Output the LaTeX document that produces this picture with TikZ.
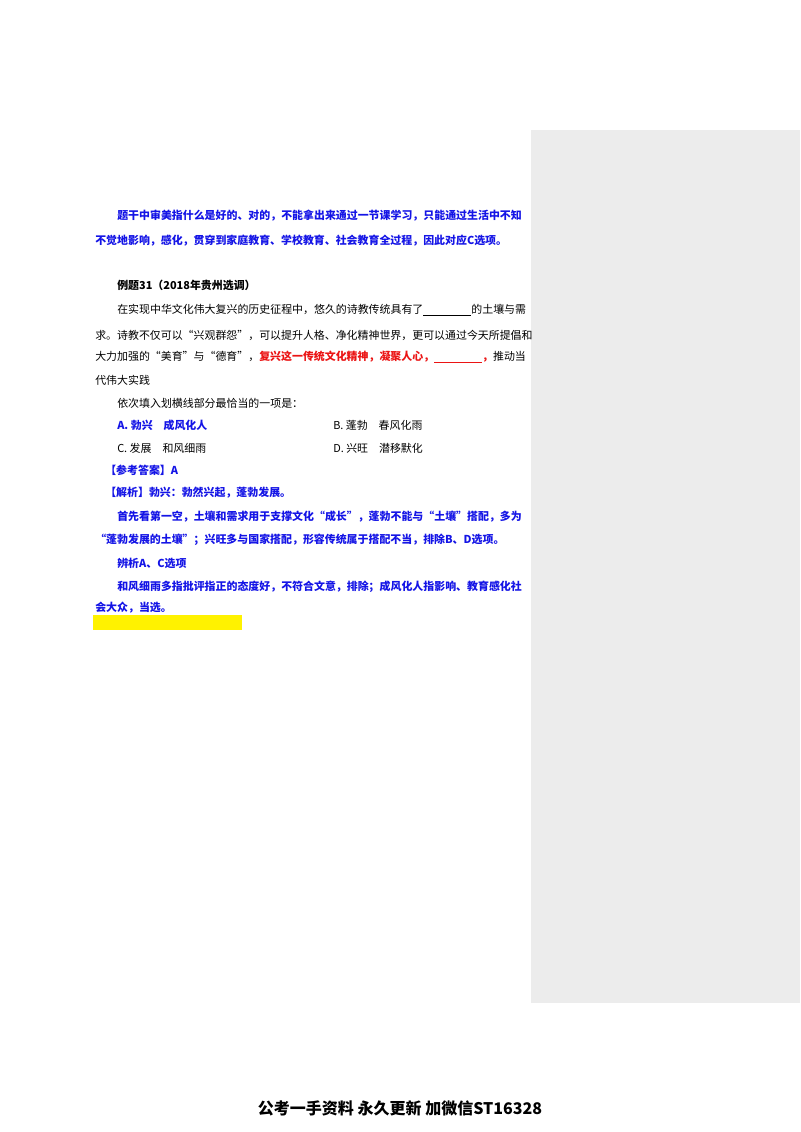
\documentclass[tikz,border=0pt]{standalone}
\usepackage{fontspec}
\setmainfont{Noto Sans CJK SC}
\newfontfamily\cjk{Noto Sans CJK SC}
\definecolor{pblue}{RGB}{20,20,230}
\definecolor{pred}{RGB}{235,20,20}
\definecolor{panel}{RGB}{236,236,236}
\begin{document}
\begin{tikzpicture}[x=0.75pt,y=-0.75pt,
  t/.style={anchor=west,inner sep=0pt,font=\fontsize{8.2}{9}\selectfont},
  b/.style={t,text=pblue,font=\fontsize{8.2}{9}\selectfont\bfseries}]
\useasboundingbox (0,0) rectangle (800,1132);
\fill[white] (0,0) rectangle (800,1132);
\fill[panel] (531,130) rectangle (800,1003);
\node[b] (l1) at (117,216) {题干中审美指什么是好的、对的，不能拿出来通过一节课学习，只能通过生活中不知};
\node[b] (l2) at (95,241) {不觉地影响，感化，贯穿到家庭教育、学校教育、社会教育全过程，因此对应C选项。};
\node[t,font=\fontsize{8.2}{9}\selectfont\bfseries] (l3) at (117,285) {例题31（2018年贵州选调）};
\node[t] (l4) at (117,310) {在实现中华文化伟大复兴的历史征程中，悠久的诗教传统具有了\underline{\hspace{36pt}}的土壤与需};
\node[t] (l5) at (95,335) {求。诗教不仅可以“兴观群怨”，可以提升人格、净化精神世界，更可以通过今天所提倡和};
\node[t] (l6) at (95,357) {大力加强的“美育”与“德育”，\textcolor{pred}{\bfseries 复兴这一传统文化精神，凝聚人心，\underline{\hspace{36pt}}，}推动当};
\node[t] (l7) at (95,380) {代伟大实践};
\node[t] (l8) at (117,403) {依次填入划横线部分最恰当的一项是：};
\node[b] (oa) at (117,425) {A.~勃兴\quad 成风化人};
\node[t] (ob) at (333,425) {B.~蓬勃\quad 春风化雨};
\node[t] (oc) at (117,448) {C.~发展\quad 和风细雨};
\node[t] (od) at (333,448) {D.~兴旺\quad 潜移默化};
\node[b] (l9) at (105,470) {【参考答案】A};
\node[b] (l10) at (105,493) {【解析】勃兴：勃然兴起，蓬勃发展。};
\node[b] (l11) at (117,517) {首先看第一空，土壤和需求用于支撑文化“成长”，蓬勃不能与“土壤”搭配，多为};
\node[b] (l12) at (95,540) {“蓬勃发展的土壤”；兴旺多与国家搭配，形容传统属于搭配不当，排除B、D选项。};
\node[b] (l13) at (117,563) {辨析A、C选项};
\node[b] (l14) at (117,587) {和风细雨多指批评指正的态度好，不符合文意，排除；成风化人指影响、教育感化社};
\node[b] (l15) at (95,608) {会大众，当选。};
\fill[yellow] (93,615) rectangle (242,630);
\node[anchor=center,inner sep=0pt,font=\fontsize{12}{13}\selectfont\bfseries] (ft) at (400,1108) {公考一手资料 永久更新 加微信ST16328};
\end{tikzpicture}
\end{document}
